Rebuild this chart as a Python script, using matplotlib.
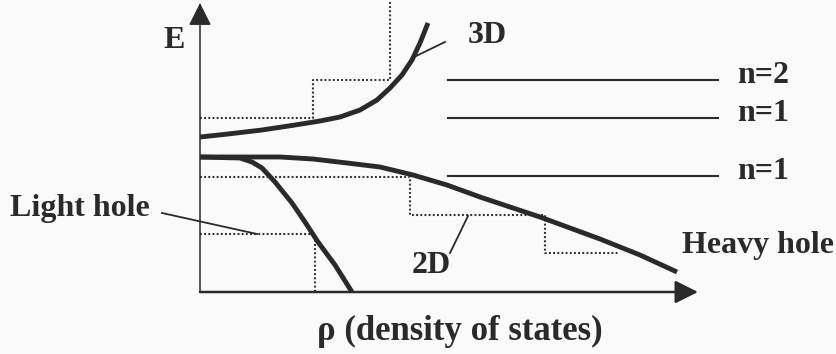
import matplotlib
matplotlib.use('Agg')
import matplotlib.pyplot as plt

matplotlib.rcParams['font.family'] = 'Liberation Serif'
matplotlib.rcParams['font.weight'] = 'bold'
matplotlib.rcParams['font.size']   = 23

INK = '#2a2a2a'

# rho (density of states) and E, arbitrary units, origin at the axes corner
cond_3d_rho = [0.0, 2.8, 6.2, 9.5, 12.0, 14.0, 16.0, 17.7, 19.0, 20.2, 21.2, 22.0, 22.8]
cond_3d_E   = [15.5, 15.8, 16.2, 16.7, 17.1, 17.5, 18.2, 19.2, 20.4, 21.7, 23.2, 24.9, 26.9]

heavy_rho = [0.0, 4.5, 8.0, 11.3, 14.7, 18.0, 21.3, 24.7, 28.0, 31.3, 34.0, 40.0, 44.0, 47.7]
heavy_E   = [13.5, 13.5, 13.5, 13.3, 12.9, 12.5, 11.7, 10.7, 9.5, 8.4, 7.5, 5.3, 3.7, 2.0]

light_rho = [0.0, 4.0, 5.2, 6.2, 7.5, 9.2, 10.5, 11.8, 13.5, 15.2]
light_E   = [13.5, 13.4, 13.0, 12.4, 11.0, 8.9, 7.0, 5.0, 2.7, 0.0]

# 2D step densities (dotted)
cond_2d_rho  = [0.0, 11.3, 11.3, 19.0, 19.0]
cond_2d_E    = [17.4, 17.4, 21.2, 21.2, 30.0]
heavy_2d_rho = [0.0, 21.0, 21.0, 34.5, 34.5, 41.8]
heavy_2d_E   = [11.5, 11.5, 7.7, 7.7, 3.9, 3.9]
light_2d_rho = [0.0, 11.5, 11.5]
light_2d_E   = [5.8, 5.8, 0.0]

# quantum well levels
level_E      = [21.2, 17.4, 11.6]
level_labels = ['n=2', 'n=1', 'n=1']
level_start  = 24.8
level_end    = 51.8


def figure_1():
    fig = plt.figure(figsize=(8.36, 3.54), dpi=100)
    fig.patch.set_facecolor('#fafafa')
    ax = fig.add_axes([0, 0, 1, 1])
    ax.axis('off')
    ax.set_xlim(-20.0, 63.6)
    ax.set_ylim(-6.2, 29.2)

    # axes with arrows
    arrow = dict(arrowstyle='-|>,head_length=1.0,head_width=0.5',
                 mutation_scale=14, color=INK, shrinkA=0, shrinkB=0)
    ax.annotate('', xy=(0, 28.9), xytext=(0, 0),
                arrowprops=dict(arrow, lw=1.1))
    ax.annotate('', xy=(49.8, 0), xytext=(0, 0),
                arrowprops=dict(arrow, lw=1.8))

    # dotted 2D steps
    dots = dict(color='#2e2e2e', lw=1.5, ls=(0, (0.9, 1.1)))
    ax.plot(cond_2d_rho, cond_2d_E, **dots)
    ax.plot(heavy_2d_rho, heavy_2d_E, **dots)
    ax.plot(light_2d_rho, light_2d_E, **dots)

    # 3D curves
    thick = dict(color=INK, lw=3.5, solid_capstyle='butt', solid_joinstyle='round')
    ax.plot(cond_3d_rho, cond_3d_E, **thick)
    ax.plot(heavy_rho, heavy_E, **thick)
    ax.plot(light_rho, light_E, **thick)

    # levels
    for e, lab in zip(level_E, level_labels):
        ax.plot([level_start, level_end], [e, e], color=INK, lw=1.5)
        ax.text(53.7, e - 0.3, lab, ha='left', va='baseline', color=INK)

    # labels and pointers
    ax.text(-3.7, 24.4, 'E', ha='left', va='baseline', color=INK)
    ax.text(26.8, 24.9, '3D', ha='left', va='baseline', color=INK)
    ax.plot([21.2, 24.5], [23.4, 25.0], color=INK, lw=1.3)
    ax.text(21.2, 1.9, '2D', ha='left', va='baseline', color=INK)
    ax.plot([25.0, 26.8], [3.9, 7.6], color=INK, lw=1.3)
    ax.text(-19.0, 7.6, 'Light hole', ha='left', va='baseline', color=INK)
    ax.plot([-3.8, 5.7], [7.9, 5.8], color=INK, lw=1.3)
    ax.text(48.2, 3.9, 'Heavy hole', ha='left', va='baseline', color=INK)
    ax.text(11.7, -4.8, '\u03c1 (density of states)', ha='left', va='baseline',
            color=INK, fontsize=25)

    fig.savefig('out.png', dpi=100, facecolor=fig.get_facecolor())


def main():
    figure_1()

if __name__ == '__main__':
    main()
